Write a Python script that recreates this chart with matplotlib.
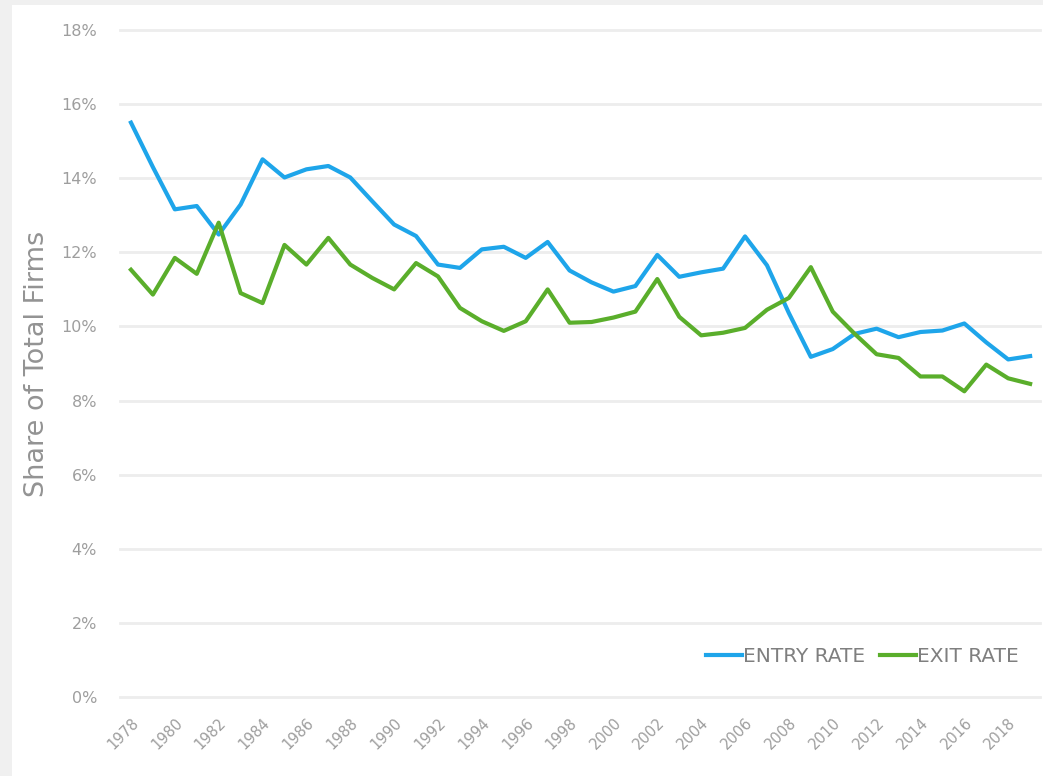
import numpy as np
import matplotlib.pyplot as plt
import matplotlib.transforms as mtransforms
from matplotlib.patches import Rectangle

# years and rates (% of total firms)
years = list(range(1978, 2020))
entry_rate = [15.5, 14.3, 13.16, 13.25, 12.48, 13.29, 14.51, 14.02, 14.24, 14.33,
              14.02, 13.38, 12.75, 12.44, 11.67, 11.58, 12.08, 12.15, 11.85, 12.28,
              11.51, 11.19, 10.94, 11.09, 11.93, 11.34, 11.46, 11.56, 12.43, 11.65,
              10.36, 9.18, 9.39, 9.80, 9.94, 9.71, 9.85, 9.89, 10.08, 9.57,
              9.11, 9.20]
exit_rate = [11.53, 10.86, 11.85, 11.42, 12.8, 10.9, 10.63, 12.2, 11.67, 12.39,
             11.67, 11.31, 11.0, 11.71, 11.35, 10.5, 10.14, 9.88, 10.14, 11.0,
             10.1, 10.12, 10.24, 10.4, 11.28, 10.26, 9.76, 9.83, 9.96, 10.45,
             10.77, 11.6, 10.4, 9.80, 9.25, 9.15, 8.65, 8.65, 8.25, 8.97,
             8.6, 8.45]
ytick_vals = list(range(0, 20, 2))
xtick_years = list(range(1978, 2019, 2))

plt.rcParams['font.family'] = ['DejaVu Sans']

fig = plt.figure(figsize=(10.43, 7.76), dpi=100, facecolor='#f0f0f0')
# white card on the light gray background
fig.patches.append(Rectangle((12/1043, 0), 1, 1 - 5/776, transform=fig.transFigure,
                             facecolor='white', edgecolor='none', zorder=-10))

ax = fig.add_axes([120/1043, 1 - 697/776, 920/1043, 667/776])
ax.set_facecolor('none')

ax.plot(years, entry_rate, color='#1ea5ea', lw=3, label='ENTRY RATE', solid_joinstyle='round')
ax.plot(years, exit_rate, color='#5aae2b', lw=3, label='EXIT RATE', solid_joinstyle='round')

ax.set_xlim(1977.5, 2019.45)
ax.set_ylim(0, 18)
ax.set_yticks(ytick_vals)
ax.set_yticklabels([f'{v}%' for v in ytick_vals])
ax.set_xticks(xtick_years)
ax.set_xticklabels([str(y) for y in xtick_years], rotation=45, ha='right',
                   rotation_mode='anchor')
shift = mtransforms.ScaledTranslation(1/100, 0, fig.dpi_scale_trans)
for lab in ax.get_xticklabels():
    lab.set_transform(lab.get_transform() + shift)

ax.grid(axis='y', color='#ededed', lw=2)
for gl in ax.get_ygridlines():
    gl.set_clip_on(False)
ax.set_axisbelow(True)
for s in ax.spines.values():
    s.set_visible(False)
ax.tick_params(axis='both', length=0, colors='#9e9e9e')
ax.tick_params(axis='y', pad=16.5, labelsize=11.5)
ax.tick_params(axis='x', pad=13, labelsize=10.5)

ax.set_ylabel('Share of Total Firms', fontsize=19.5, color='#939393')
ax.yaxis.set_label_coords(-0.076, 0.5)

leg = ax.legend(loc='center', bbox_to_anchor=(0.807, 0.06), ncol=2, frameon=False,
                handlelength=1.8, handletextpad=0.05, columnspacing=0.7, fontsize=14.5)
for t in leg.get_texts():
    t.set_color('#7f7f7f')

fig.savefig('out.png', dpi=100, facecolor=fig.get_facecolor())
